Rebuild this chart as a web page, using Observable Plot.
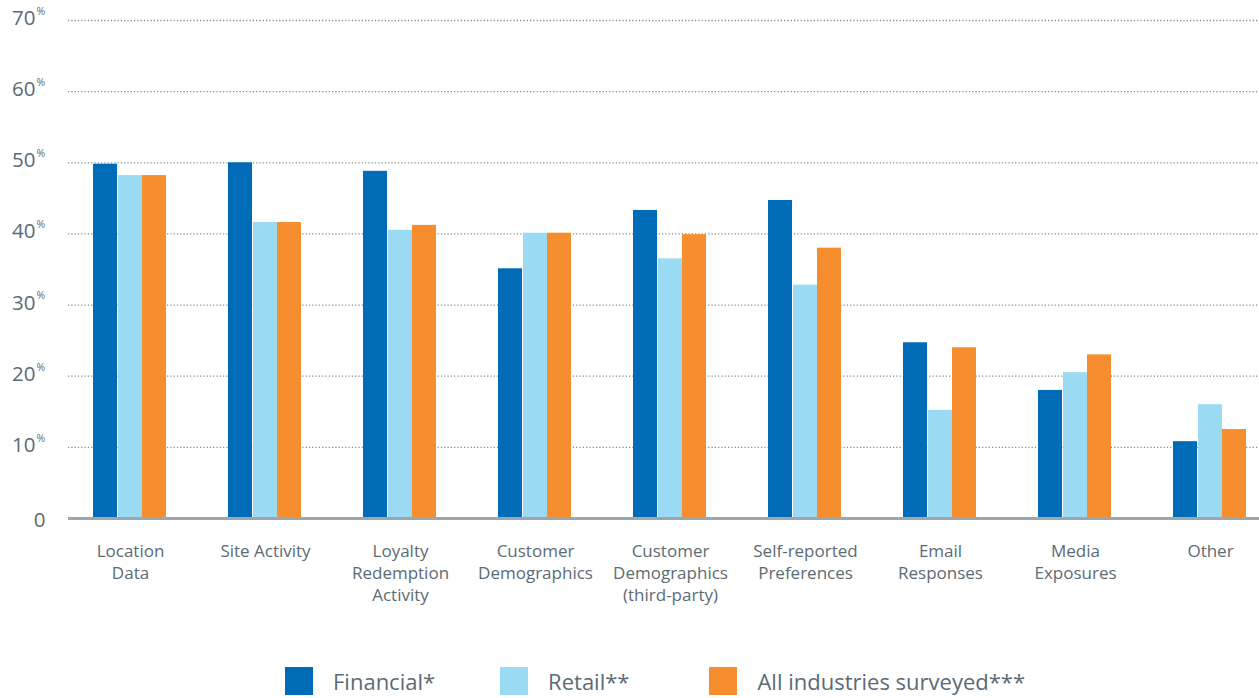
<!DOCTYPE html>
<html>
<head>
<meta charset="utf-8">
<script src="https://cdn.jsdelivr.net/npm/d3@7"></script>
<script src="https://cdn.jsdelivr.net/npm/@observablehq/plot@0.6"></script>
<style>
  html, body { margin: 0; padding: 0; background: #fff; }
  body { width: 1259px; height: 698px; overflow: hidden; font-family: "Open Sans", Lato, sans-serif; }
  #legend { position: absolute; top: 666px; left: 285px; display: flex; align-items: center; color: #5b6b74; font-size: 22px; }
  .item { display: flex; align-items: center; }
  .sw { width: 28px; height: 28px; margin-right: 20px; }
</style>
</head>
<body>
<div id="chart"></div>
<div id="legend"></div>
<script>
const categories = ["Location\nData", "Site Activity", "Loyalty\nRedemption\nActivity", "Customer\nDemographics", "Customer\nDemographics\n(third-party)", "Self-reported\nPreferences", "Email\nResponses", "Media\nExposures", "Other"];
const financial = [49.8, 50.0, 48.8, 35.1, 43.3, 44.7, 24.7, 18.0, 10.8];
const retail = [48.2, 41.6, 40.5, 40.1, 36.5, 32.8, 15.2, 20.5, 16.0];
const allIndustries = [48.2, 41.6, 41.2, 40.1, 39.9, 38.0, 24.0, 23.0, 12.5];
const seriesNames = ["Financial*", "Retail**", "All industries surveyed***"];
const colors = ["#006cb7", "#9adaf3", "#f68d2e"];
const yTicks = [10, 20, 30, 40, 50, 60, 70];

const textColor = "#5b6b74";
const rows = (vals) => categories.map((c, i) => ({category: c, value: vals[i]}));

const chart = Plot.plot({
  width: 1259,
  height: 620,
  marginLeft: 68,
  marginRight: 0,
  marginTop: 20,
  marginBottom: 102,
  style: {fontFamily: "'Open Sans', Lato, sans-serif", color: textColor, background: "#fff"},
  x: {domain: categories, range: [117.2, 1222.8], paddingInner: 0.8225, paddingOuter: 0, axis: null},
  y: {domain: [0, 70], axis: null},
  marks: [
    Plot.ruleY(yTicks, {stroke: "#7f8b93", strokeWidth: 1.3, strokeDasharray: "1.2,2.1"}),
    Plot.barY(rows(financial), {x: "category", y: "value", fill: colors[0], dx: -25}),
    Plot.barY(rows(retail), {x: "category", y: "value", fill: colors[1]}),
    Plot.barY(rows(allIndustries), {x: "category", y: "value", fill: colors[2], dx: 24}),
    Plot.ruleY([0], {stroke: "#9ca6ad", strokeWidth: 3}),
    Plot.axisX({tickSize: 0, tickPadding: 23.5, fontSize: 17, lineHeight: 1.27, fill: textColor, label: null}),
    Plot.text(yTicks, {y: d => d, text: d => String(d), frameAnchor: "left", dx: -33, dy: -2, textAnchor: "end", fontSize: 20.5, fill: textColor}),
    Plot.text(yTicks, {y: d => d, text: () => "%", frameAnchor: "left", dx: -32, dy: -9, textAnchor: "start", fontSize: 10.5, fill: textColor}),
    Plot.text([0], {y: d => d, text: d => String(d), frameAnchor: "left", dx: -23, dy: 2, textAnchor: "end", fontSize: 20.5, fill: textColor})
  ]
});
document.getElementById("chart").appendChild(chart);

const legend = document.getElementById("legend");
const gaps = [65, 80, 0];
seriesNames.forEach((name, i) => {
  const item = document.createElement("div");
  item.className = "item";
  item.style.marginRight = gaps[i] + "px";
  const sw = document.createElement("div");
  sw.className = "sw";
  sw.style.background = colors[i];
  const label = document.createElement("span");
  label.textContent = name;
  item.appendChild(sw);
  item.appendChild(label);
  legend.appendChild(item);
});
</script>
</body>
</html>
